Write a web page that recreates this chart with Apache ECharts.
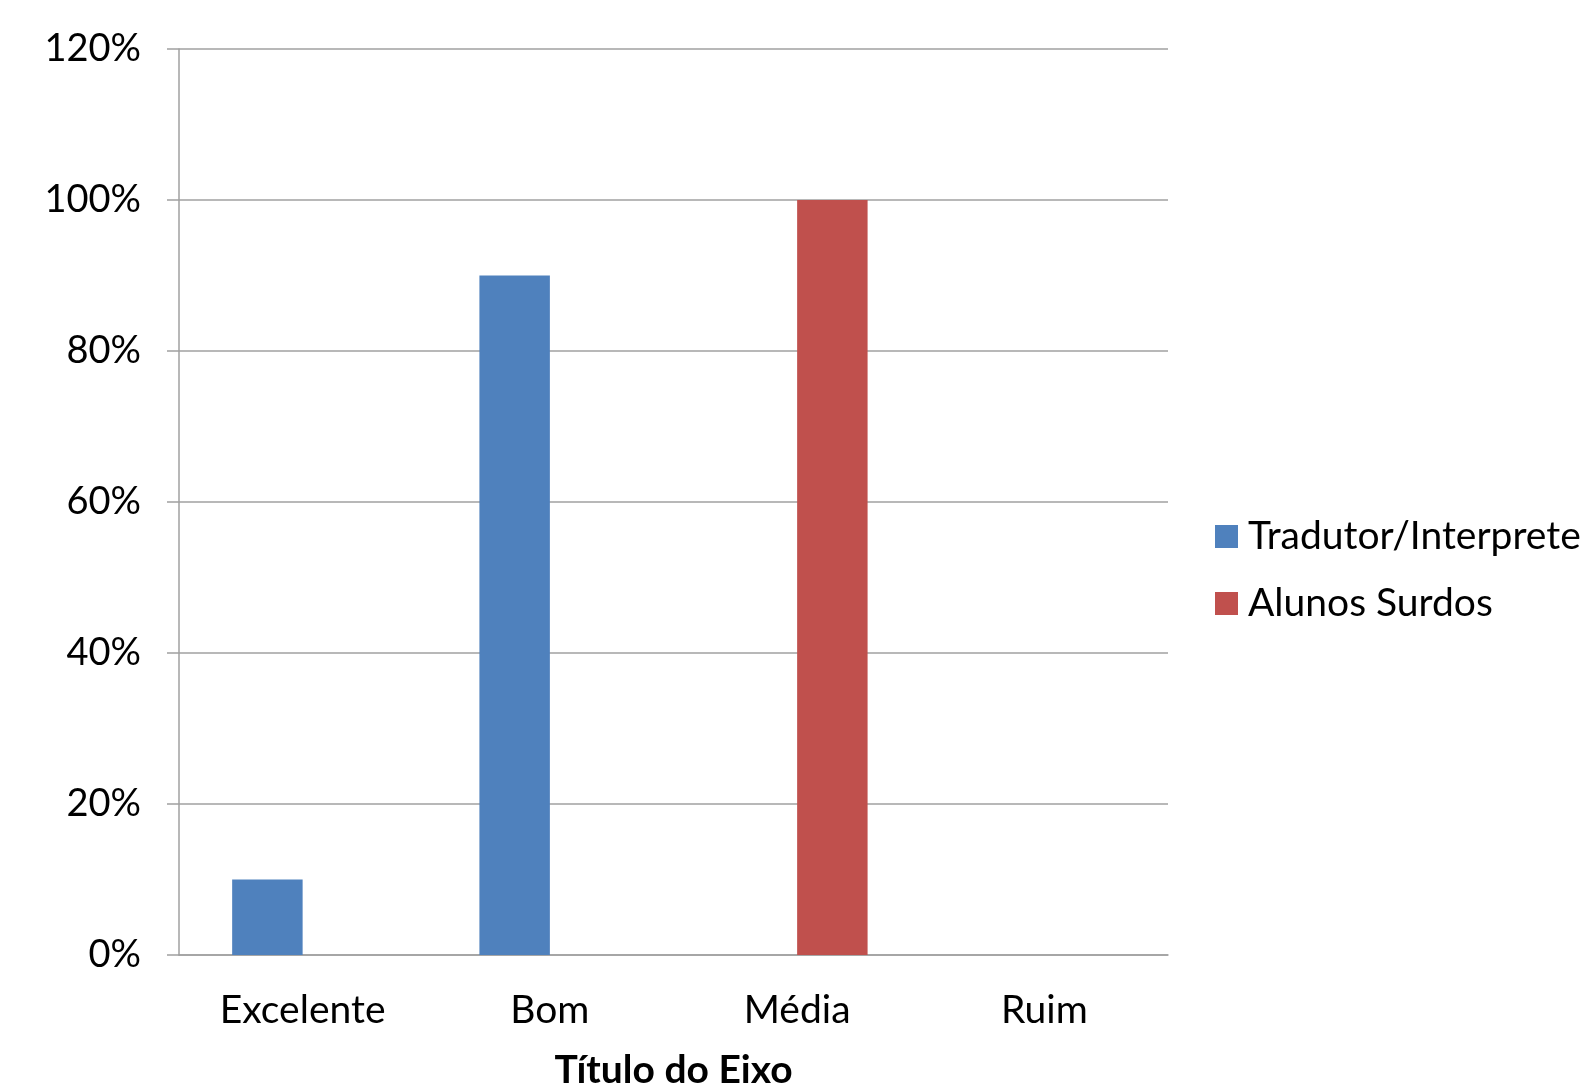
<!DOCTYPE html>
<html>
<head>
<meta charset="utf-8">
<script src="https://cdn.jsdelivr.net/npm/echarts@6/dist/echarts.min.js"></script>
<style>
  html, body { margin: 0; padding: 0; background: #ffffff; }
  #chart { width: 1592px; height: 1090px; }
</style>
</head>
<body>
<div id="chart"></div>
<script>
// Rating categories along the x axis
const categories = ['Excelente', 'Bom', 'Média', 'Ruim'];
// Share of answers per group, in percent
const tradutorValues = [10, 90, 0, 0];
const alunosValues = [0, 0, 100, 0];
const seriesNames = ['Tradutor/Interprete', 'Alunos Surdos'];
const axisTitle = 'Título do Eixo';

const FONT = 'Lato, "Open Sans", sans-serif';
const chart = echarts.init(document.getElementById('chart'), null, { renderer: 'canvas' });

chart.setOption({
  animation: false,
  backgroundColor: '#ffffff',
  color: ['#4F81BD', '#C0504D'],
  grid: { left: 179, right: 424, top: 49, bottom: 135, containLabel: false, outerBoundsMode: 'none' },
  legend: {
    orient: 'vertical',
    left: 1210,
    top: 512,
    itemWidth: 23,
    itemHeight: 23,
    itemGap: 28,
    icon: 'rect',
    data: seriesNames,
    textStyle: { fontFamily: FONT, fontSize: 39, color: '#000000', padding: [0, 0, 0, 5] }
  },
  xAxis: {
    type: 'category',
    data: categories,
    name: axisTitle,
    nameLocation: 'middle',
    nameGap: 96,
    nameTextStyle: { fontFamily: FONT, fontSize: 39, fontWeight: 'bold', color: '#000000' },
    axisLine: { show: true, lineStyle: { color: '#a0a0a0', width: 1.5 } },
    axisTick: { show: false },
    axisLabel: { fontFamily: FONT, fontSize: 39, color: '#000000', margin: 36 },
    splitLine: { show: false }
  },
  yAxis: {
    type: 'value',
    min: 0,
    max: 120,
    interval: 20,
    axisLine: { show: true, lineStyle: { color: '#a0a0a0', width: 1.5 } },
    axisTick: { show: true, length: 12, lineStyle: { color: '#a0a0a0', width: 1.5 } },
    axisLabel: { fontFamily: FONT, fontSize: 38, color: '#000000', margin: 38, formatter: '{value}%' },
    splitLine: { show: true, lineStyle: { color: '#a0a0a0', width: 1.5 } }
  },
  series: [
    {
      name: seriesNames[0],
      type: 'bar',
      data: tradutorValues,
      barGap: '0%',
      barCategoryGap: '43%'
    },
    {
      name: seriesNames[1],
      type: 'bar',
      data: alunosValues,
      barGap: '0%',
      barCategoryGap: '43%'
    }
  ]
});
</script>
</body>
</html>
